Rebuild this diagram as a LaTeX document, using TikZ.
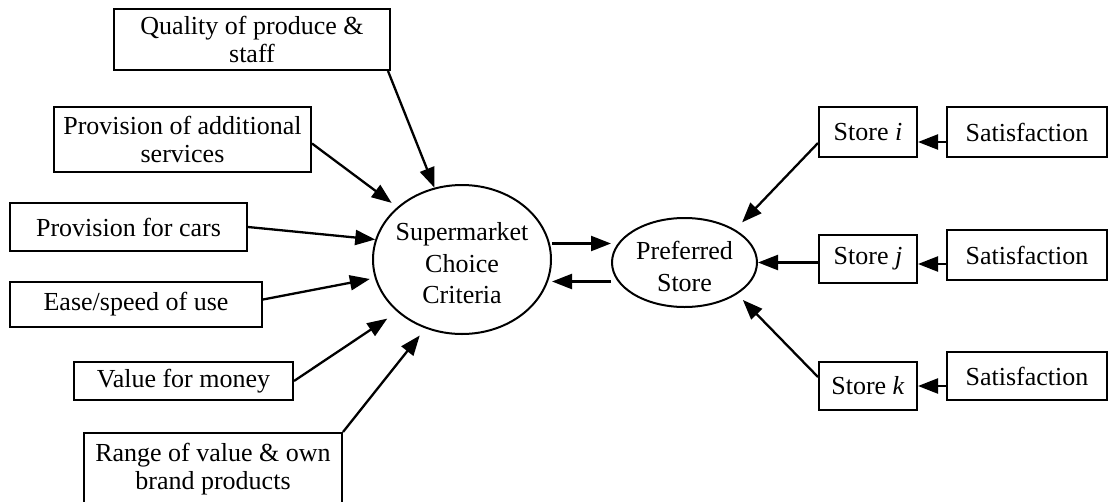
\documentclass[tikz,border=0pt]{standalone}
\usepackage{fontspec}
\setmainfont{Liberation Serif}
\usetikzlibrary{arrows.meta,shapes.geometric}

\tikzset{
  box/.style={draw, line width=2pt, rectangle, inner sep=0pt, align=center,
    font=\fontsize{26}{28}\selectfont},
  oval/.style={draw, line width=2pt, ellipse, inner sep=0pt},
  ovaltext/.style={align=center, inner sep=0pt, yshift=-4pt,
    font=\fontsize{26}{31.5}\selectfont},
  arr/.style={line width=2.3pt, -{Triangle[length=20pt,width=15pt]}},
}

\begin{document}
\begin{tikzpicture}[x=1pt, y=-1pt]
\useasboundingbox (0,0) rectangle (1117,501);

% criteria boxes on the left
\node[box, minimum width=276pt, minimum height=61pt] (q) at (252,39.5)
  {Quality of produce \&\\staff};
\node[box, minimum width=257pt, minimum height=65pt] (a) at (182.5,139.5)
  {Provision of additional\\services};
\node[box, minimum width=237pt, minimum height=48pt] (c) at (128.5,227)
  {Provision for cars};
\node[box, minimum width=252pt, minimum height=45pt] (e) at (136,304.5)
  {Ease/speed of use};
\node[box, minimum width=219pt, minimum height=38pt] (v) at (183.5,381)
  {Value for money};
\node[box, minimum width=258pt, minimum height=72pt] (r) at (213,469)
  {Range of value \& own\\brand products};

% central ellipses
\node[oval, minimum width=178pt, minimum height=149pt,
  label={[ovaltext]center:Supermarket\\Choice\\Criteria}] (sm) at (462,259.5) {};
\node[oval, minimum width=145pt, minimum height=89pt,
  label={[ovaltext]center:Preferred\\Store}] (ps) at (684.5,262.5) {};

% stores and their satisfaction
\node[box, minimum width=98pt, minimum height=50pt] (si) at (868,132)
  {Store \textit{i}};
\node[box, minimum width=98pt, minimum height=48pt] (sj) at (868,259)
  {Store \textit{j}};
\node[box, minimum width=98pt, minimum height=48pt] (sk) at (868,386)
  {Store \textit{k}};
\node[box, minimum width=160pt, minimum height=50pt] (s1) at (1027,132)
  {Satisfaction};
\node[box, minimum width=160pt, minimum height=50pt] (s2) at (1027,255)
  {Satisfaction};
\node[box, minimum width=160pt, minimum height=48pt] (s3) at (1027,376)
  {Satisfaction};

% criteria feeding the choice ellipse
\draw[arr] ([xshift=-3pt]q.south east) -- (sm.111);
\draw[arr, shorten >=7pt] ([yshift=-4pt]a.east) -- (sm.141);
\draw[arr] (c.east) -- (sm.167);
\draw[arr, shorten >=5pt] ([yshift=5pt]e.east) -- (sm.192);
\draw[arr, shorten >=12pt] (v.east) -- (sm.219);
\draw[arr, shorten >=9pt] (r.north east) -- (sm.242);

% two-way link between the ellipses
\draw[arr] ([yshift=16pt]sm.east) -- ([yshift=16pt]sm.east -| ps.west);
\draw[arr] ([yshift=-22pt]sm.east -| ps.west) -- ([yshift=-22pt]sm.east);

% stores into the preferred store
\draw[arr, shorten >=10pt] ([yshift=-11pt]si.west) -- (ps.33);
\draw[arr] (sj.west |- ps.east) -- (ps.east);
\draw[arr, shorten >=8pt] ([yshift=9pt]sk.west) -- (ps.-31);

% satisfaction into each store
\draw[arr] ([yshift=-10pt]s1.west) -- ([yshift=-10pt]s1.west -| si.east);
\draw[arr] ([yshift=-9pt]s2.west) -- ([yshift=-9pt]s2.west -| sj.east);
\draw[arr] ([yshift=-10pt]s3.west) -- ([yshift=-10pt]s3.west -| sk.east);
\end{tikzpicture}
\end{document}
